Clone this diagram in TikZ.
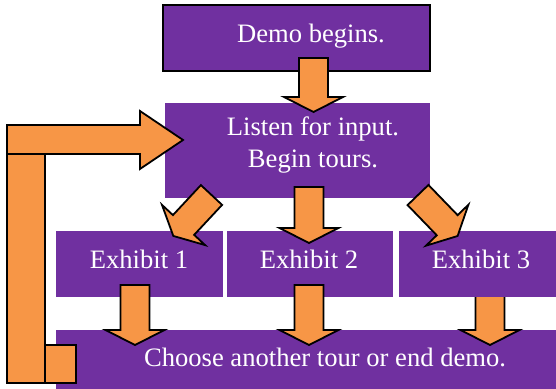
\documentclass[tikz,border=0pt]{standalone}
\usepackage{fontspec}
\setmainfont{Liberation Serif}

\definecolor{tourpurple}{HTML}{7030A0}
\definecolor{tourorange}{HTML}{F79646}

\tikzset{
  box/.style={fill=tourpurple},
  lbl/.style={text=white, align=center, font=\fontsize{13.3}{16}\selectfont, inner sep=0pt},
  blockfill/.style={draw=black, fill=tourorange, line width=0.9pt, line join=miter}
}

% block arrow: start x, start y, angle, length (all in px of the sketch)
\newcommand{\blockarrow}[4]{%
  \begin{scope}[shift={(#1,#2)}, rotate=#3, x=0.5pt, y=0.5pt]
    \draw[blockfill] (0,-14.5) -- (#4-15,-14.5) -- (#4-15,-29.5) -- (#4,0)
      -- (#4-15,29.5) -- (#4-15,14.5) -- (0,14.5) -- cycle;
  \end{scope}}

\begin{document}
\begin{tikzpicture}[x=0.5pt, y=-0.5pt]
        \useasboundingbox (0,0) rectangle (556,389);

        % Boxes
        \draw[box, draw=black, line width=1pt] (163,5) rectangle (430,71);
        \fill[box] (165,103) rectangle (430,198);
        \fill[box] (56,330) rectangle (556,389);

        % Exhibit 3 arrow sits behind its box
        \blockarrow{490}{290}{-90}{55}

        \fill[box] (56,231) rectangle (223,297);
        \fill[box] (227,231) rectangle (393,297);
        \fill[box] (399,231) rectangle (556,297);

        % Texts
        \node[lbl] (demo) at (311,36) {Demo begins.};
        \node[lbl] (listen) at (313,145) {Listen for input.\\Begin tours.};
        \node[lbl] (ex1) at (139,259) {Exhibit 1};
        \node[lbl] (ex2) at (309,259) {Exhibit 2};
        \node[lbl] (ex3) at (481,259) {Exhibit 3};
        \node[lbl] (choose) at (325,357) {Choose another tour or end demo.};

        % Arrows
        \blockarrow{313.5}{58}{-90}{54}
        \blockarrow{211.5}{195}{-133}{56}
        \blockarrow{309}{187}{-90}{56}
        \blockarrow{418}{195}{-46}{57}
        \blockarrow{135}{285}{-90}{60}
        \blockarrow{309}{285}{-90}{60}

        % Loop back to input
        \draw[blockfill] (45,345) rectangle (76,383);
        \draw[blockfill] (7,125) rectangle (45,383);
        \draw[blockfill] (7,125) -- (140,125) -- (140,111) -- (183,140)
          -- (140,169) -- (140,154) -- (7,154) -- cycle;
\end{tikzpicture}
\end{document}
